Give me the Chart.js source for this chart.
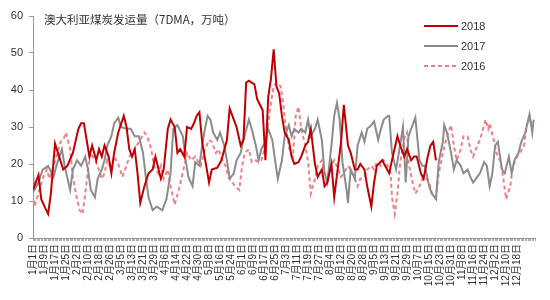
<!DOCTYPE html>
<html>
<head>
<meta charset="utf-8">
<script src="https://cdn.jsdelivr.net/npm/chart.js@4.4.1/dist/chart.umd.min.js"></script>
<style>
  html, body { margin: 0; padding: 0; background: #fff; }
  #wrap { position: relative; width: 550px; height: 300px; }
  #title { position: absolute; left: 44px; top: 11px; font: 11.5px "Noto Sans CJK SC", sans-serif; color: #333; white-space: nowrap; }
  #legend { position: absolute; left: 424px; top: 16px; font: 11px "Liberation Sans", sans-serif; color: #333; }
  .item { display: flex; align-items: center; height: 20px; }
  .item svg { margin-right: 3px; }
</style>
</head>
<body>
<div id="wrap">
  <canvas id="chart" width="550" height="300"></canvas>
  <div id="title">澳大利亚煤炭发运量（7DMA，万吨）</div>
  <div id="legend"></div>
</div>
<script>
// day of year (0 = 1月1日) and value, 万吨
const s2018 = [[0,13],[4,17],[6,10.5],[9,8],[11,6.5],[13,12],[16,25.5],[19,22],[22,18.5],[25,19.5],
  [29,23],[33,29.5],[35,31],[37,31],[39,26.5],[41,22],[43,25],[46,21],[48,24],[50,22],
  [52,25],[55,22],[57,17.5],[59,23],[62,28.5],[66,33],[68,30],[70,24],[72,22],[74,24],
  [76,17.5],[78,9.5],[81,14],[84,17.5],[87,18.5],[89,22],[91,19],[93,16],[95,18.5],[98,29.5],
  [100,32],[103,30],[105,23],[107,24],[110,22],[112,30],[115,29.5],[117,31],[119,33],[121,34],
  [123,26],[125,21.5],[128,15],[130,18.5],[134,19],[137,21],[141,26.5],[143,35],[146,32],[148,30],
  [151,25],[153,26.5],[155,42],[157,42.5],[159,42],[161,41.5],[163,37.5],[165,36],[167,34.5],[169,21],
  [171,38],[173,43],[175,51],[177,41],[179,39],[181,33],[183,28.5],[186,26.5],[188,22],[190,20],
  [193,20.5],[195,22],[198,25],[200,26],[202,29.5],[205,20],[207,16.5],[210,18.5],[212,14],[214,15],
  [217,20],[219,11],[222,20],[224,26],[226,36],[229,25],[231,23],[234,18.5],[236,18.5],[238,20],
  [241,18.5],[243,14],[246,8.5],[248,15],[250,19.5],[254,21],[256,19.5],[259,17.5],[261,21],[265,27.5],
  [267,25],[270,22],[272,24],[275,21],[277,22],[279,22],[282,17.5],[284,16],[287,22],[289,25],
  [291,26],[293,21]];

const s2017 = [[0,17.5],[1,13],[4,15],[7,18.5],[11,19.5],[15,16.5],[17,19.5],[21,24],[23,19.5],[27,13],
  [29,18.5],[32,21],[35,19.5],[38,22],[40,18.5],[42,13],[45,11],[47,16],[50,18.5],[52,21],
  [54,25],[57,27.5],[59,31],[62,32.5],[64,30],[68,29.5],[71,29.5],[74,27.5],[77,27.5],[80,23],
  [82,16.5],[84,11],[87,7.5],[90,8.5],[94,7.5],[97,10.5],[100,17.5],[102,29.5],[105,30.5],[109,27.5],
  [111,21],[113,16.5],[116,14],[118,20.5],[121,19.5],[123,25],[125,29.5],[127,33],[129,32],[131,28.5],
  [134,26.5],[136,28.5],[139,25],[141,21],[143,16],[146,17.5],[148,21],[151,23],[153,26.5],[157,32],
  [159,29.5],[162,25],[164,21],[166,24],[169,26],[171,29.5],[174,26.5],[176,21],[178,16],[181,21],
  [183,27.5],[186,30.5],[188,27.5],[190,29.5],[193,28.5],[195,29.5],[198,28.5],[200,32],[202,27.5],[205,29.5],
  [207,32],[210,26.5],[212,17.5],[214,15],[217,25],[219,33],[221,36.5],[223,32],[225,20.5],[228,13],
  [229,9.5],[231,18.5],[234,16],[236,25],[239,28.5],[241,26],[243,29.5],[246,30.5],[248,31.5],[251,26.5],
  [253,29.5],[255,32],[258,33],[259,33],[261,23],[264,18.5],[266,23],[269,30],[271,15],[273,27.5],
  [276,30.5],[278,32.5],[281,21],[283,19.5],[285,19.5],[288,14],[290,12],[293,10.5],[295,20.5],[298,26],
  [299,30.5],[301,28.5],[304,23],[306,18.5],[308,21],[311,19.5],[313,17.5],[316,18.5],[318,16.5],[320,15],
  [323,16.5],[325,17.5],[328,20.5],[330,19.5],[332,14],[334,17.5],[336,25],[338,26],[341,18.5],[343,17.5],
  [346,22],[348,17.5],[350,21],[353,23],[355,26],[358,28.5],[360,32],[361,33.5],[363,28.5],[364,32]];

const s2016 = [[0,12],[1,8.5],[4,12],[7,16],[10,18.5],[12,16],[15,19.5],[17,22],[20,26],[22,26.5],
  [24,28.5],[27,24],[29,16.5],[32,10.5],[34,7.5],[36,6.5],[38,12],[40,18.5],[42,23],[45,21],
  [47,19.5],[50,16],[52,17.5],[54,21],[57,18.5],[59,22],[62,20],[65,16.5],[68,19.5],[70,22],
  [74,24],[77,26],[81,28.5],[83,27.5],[86,24],[88,19.5],[91,17.5],[93,19.5],[95,16],[98,18.5],
  [100,14],[103,9],[106,13],[110,19.5],[112,23],[115,21],[118,22],[122,19.5],[125,24],[128,26.5],
  [130,26],[133,23],[135,24],[137,21.5],[140,19.5],[142,16.5],[145,15],[147,14],[150,13],[152,19.5],
  [154,23],[157,24],[159,20.5],[162,21],[164,20.5],[166,21],[169,25],[171,31],[173,36.5],[175,41],
  [177,42],[180,41],[182,36],[184,29.5],[187,23],[189,22],[191,33],[193,35.5],[195,29.5],[198,25],
  [200,20.5],[202,12],[205,16],[207,19.5],[210,21],[212,17.5],[214,16.5],[217,19.5],[219,21],[222,18.5],
  [224,16.5],[226,17.5],[229,19.5],[231,18.5],[234,16],[236,14],[238,16],[241,16.5],[243,18.5],[246,19.5],
  [248,18.5],[250,20.5],[253,19.5],[255,21],[258,19.5],[260,17.5],[261,11],[263,6.5],[265,12],[267,20.5],
  [270,27],[272,28.5],[273,20.5],[276,15],[278,12],[281,14],[283,16],[285,16.5],[288,15],[290,12],
  [293,11],[295,17.5],[298,23],[300,26],[302,28.5],[304,30.5],[306,25],[308,21],[311,24],[313,27.5],
  [316,27.5],[318,24],[320,22],[323,25],[325,26.5],[328,30.5],[329,32],[331,29.5],[332,31],[335,26.5],
  [337,23],[340,20.5],[342,16],[344,10.5],[347,14],[349,19.5],[352,22],[354,23],[357,25],[359,30.5],
  [361,32],[364,30]];

// x tick labels, one every 8 days
const tickLabels = ['1月1日','1月9日','1月17日','1月25日','2月2日','2月10日','2月18日','2月26日',
  '3月5日','3月13日','3月21日','3月29日','4月6日','4月14日','4月22日','4月30日','5月8日','5月16日',
  '5月24日','6月1日','6月9日','6月17日','6月25日','7月3日','7月11日','7月19日','7月27日','8月4日',
  '8月12日','8月20日','8月28日','9月5日','9月13日','9月21日','9月29日','10月7日','10月15日','10月23日',
  '10月31日','11月8日','11月16日','11月24日','12月2日','12月10日','12月18日'];

const toXY = (arr) => arr.map(p => ({ x: p[0], y: p[1] }));

const chart = new Chart(document.getElementById('chart'), {
  type: 'line',
  data: {
    datasets: [
      { label: '2018', data: toXY(s2018), borderColor: '#c00000', borderWidth: 2 },
      { label: '2017', data: toXY(s2017), borderColor: '#8c8c8c', borderWidth: 2 },
      { label: '2016', data: toXY(s2016), borderColor: '#ef8088', borderWidth: 2, borderDash: [4, 3] }
    ]
  },
  options: {
    responsive: false,
    animation: false,
    elements: { point: { radius: 0 }, line: { tension: 0 } },
    layout: { padding: { top: 16, right: 13, left: 0, bottom: 0 } },
    plugins: { legend: { display: false }, tooltip: { enabled: false } },
    scales: {
      x: {
        type: 'linear',
        min: 0,
        max: 365,
        afterBuildTicks: (axis) => {
          const t = [];
          for (let d = 0; d <= 365; d++) t.push({ value: d });
          axis.ticks = t;
        },
        afterFit: (axis) => { axis.height = 62; },
        ticks: {
          autoSkip: false,
          maxRotation: 90,
          minRotation: 90,
          padding: 3,
          color: '#333',
          font: { family: "'Liberation Sans', 'Noto Sans CJK SC'", size: 10 },
          callback: (v) => (v % 8 === 0 && tickLabels[v / 8]) ? tickLabels[v / 8] : ''
        },
        grid: { drawOnChartArea: false, tickLength: 3, color: '#b0b0b0' },
        border: { color: '#999' }
      },
      y: {
        min: 0,
        max: 60,
        afterFit: (axis) => { axis.width = 33; },
        ticks: { stepSize: 10, padding: 6, color: '#333', font: { family: "'Liberation Sans'", size: 11 } },
        grid: { drawOnChartArea: false, tickLength: 4, color: '#999' },
        border: { color: '#999' }
      }
    }
  }
});

// legend
const legendBox = document.getElementById('legend');
chart.data.datasets.forEach(ds => {
  const dash = ds.borderDash ? ` stroke-dasharray="${ds.borderDash.join(',')}"` : '';
  legendBox.insertAdjacentHTML('beforeend',
    `<div class="item"><svg width="34" height="4"><line x1="0" y1="2" x2="34" y2="2" stroke="${ds.borderColor}" stroke-width="2"${dash}/></svg>${ds.label}</div>`);
});
</script>
</body>
</html>
